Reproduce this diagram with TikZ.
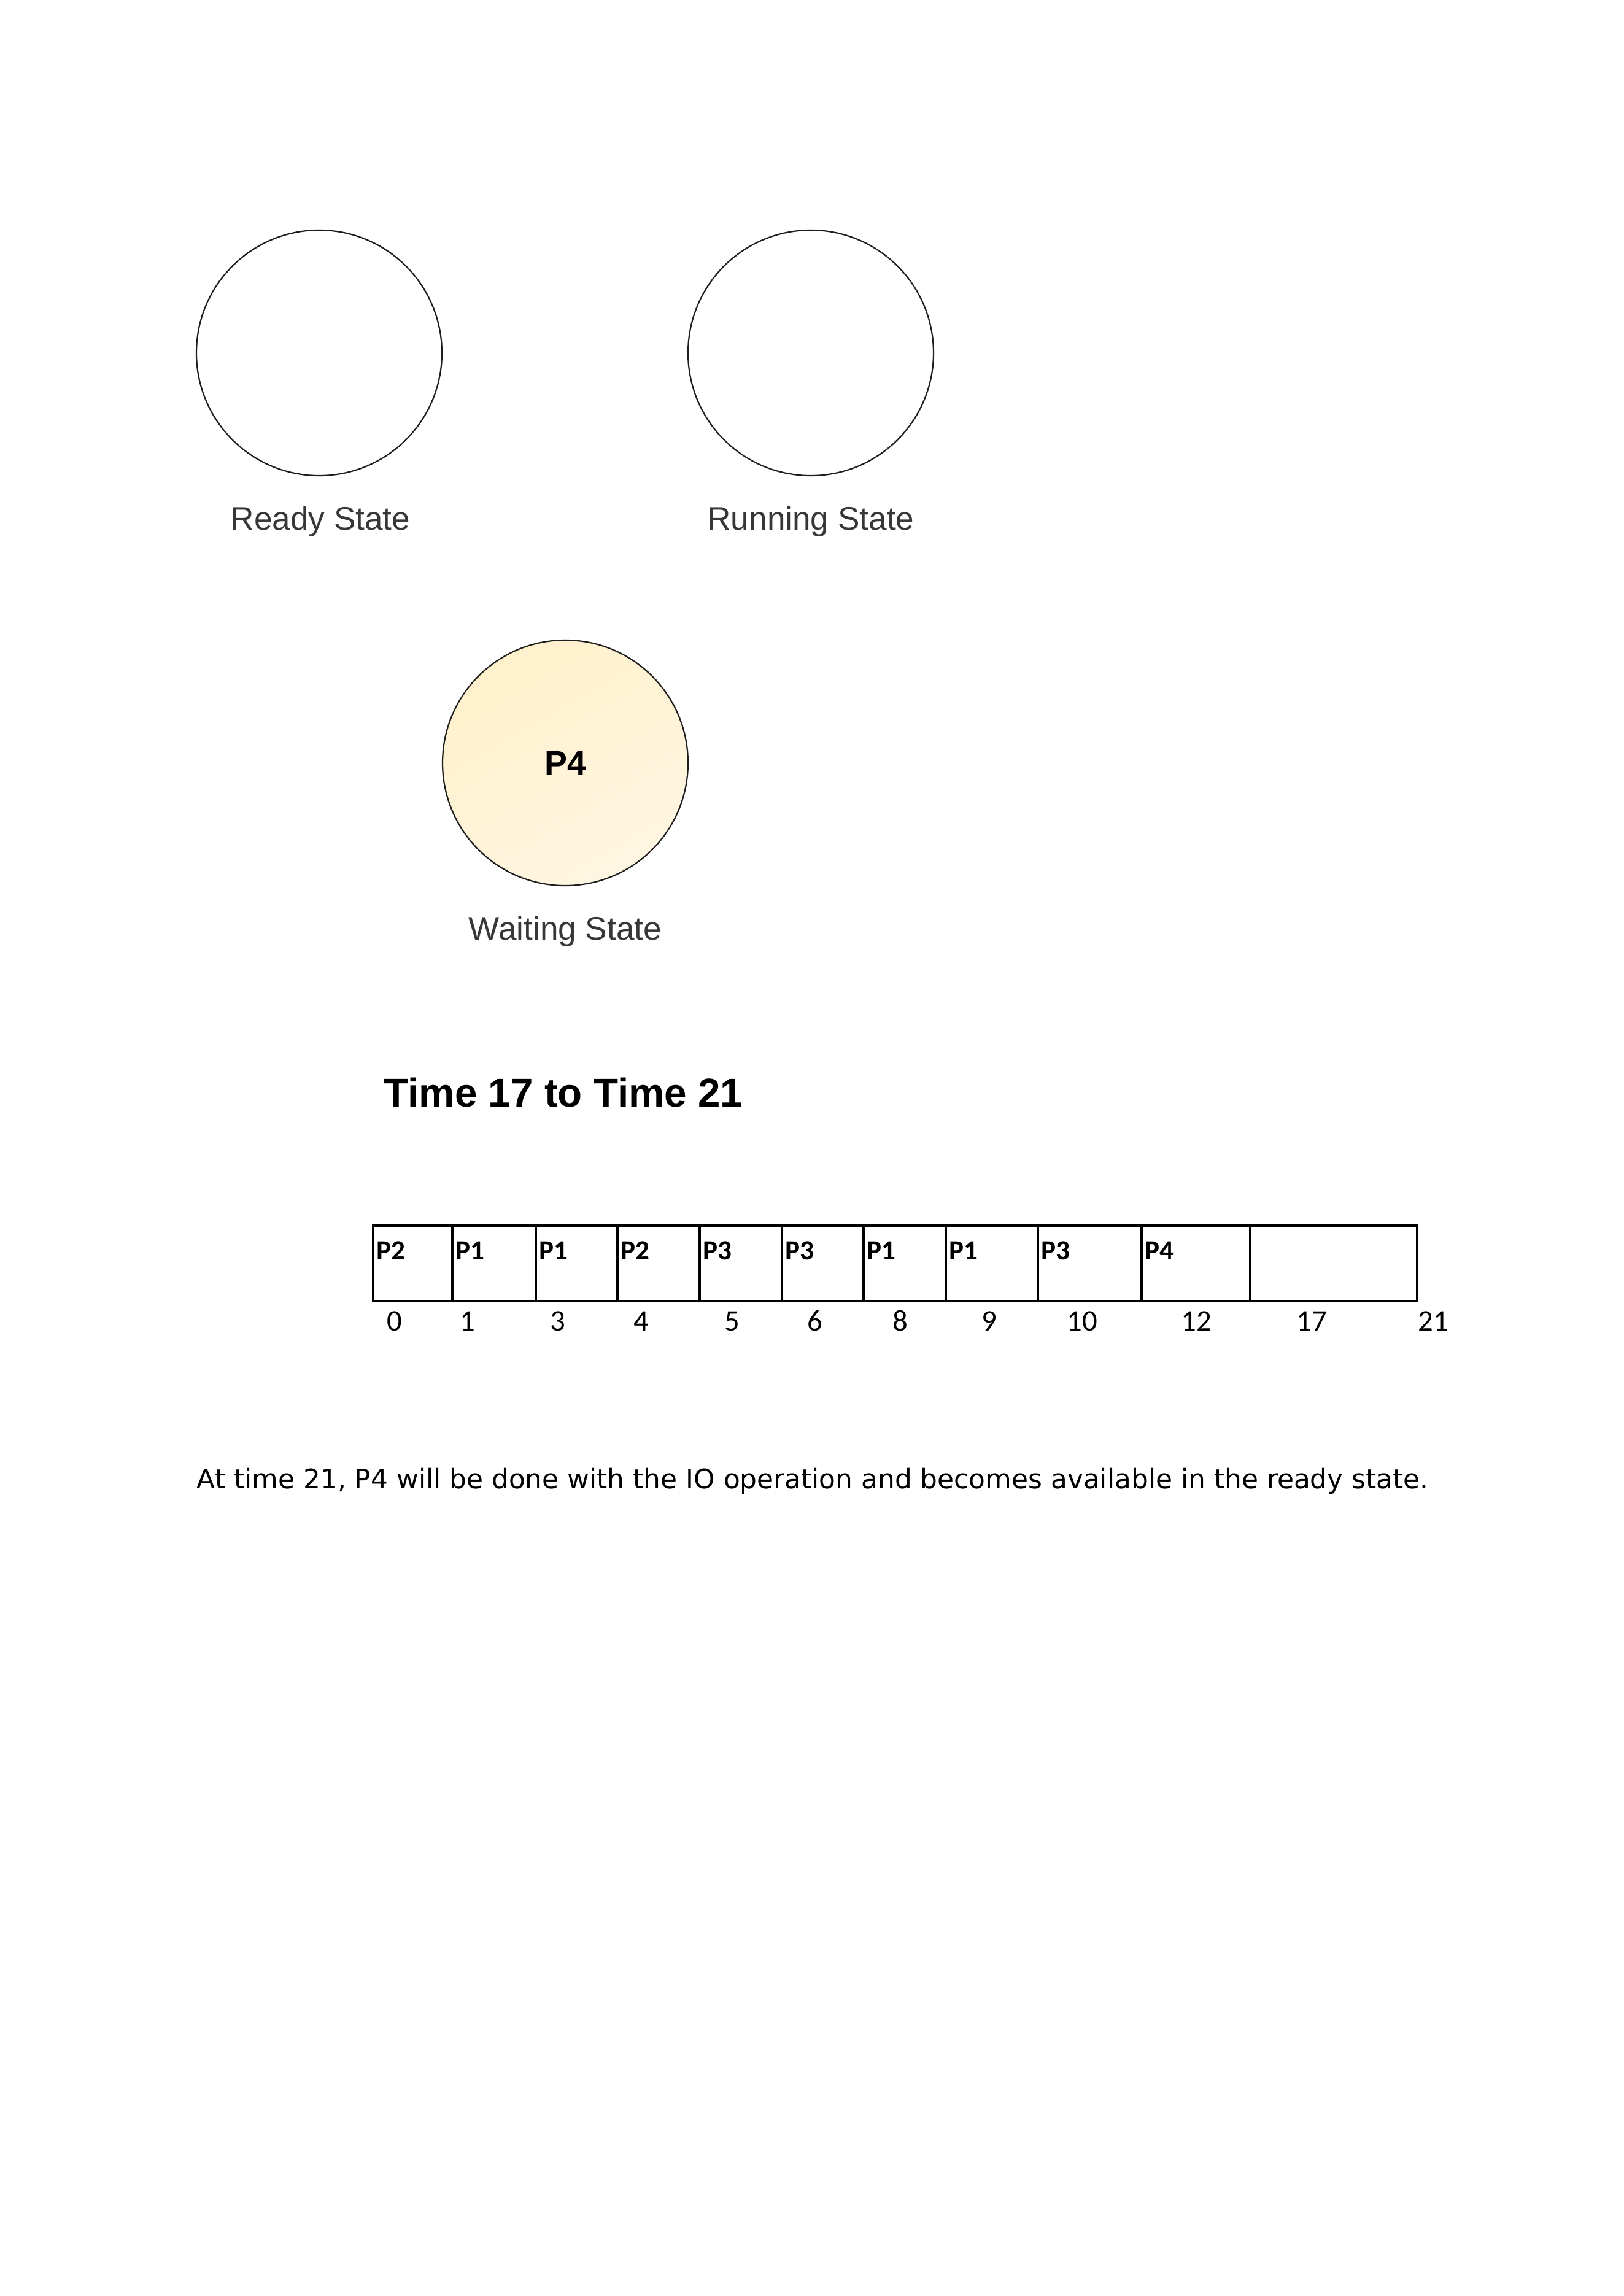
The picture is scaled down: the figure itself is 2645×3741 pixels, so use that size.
\documentclass[tikz,border=0pt]{standalone}
\usepackage{fontspec}
\usepackage{tikz}
\usetikzlibrary{positioning}
\setmainfont{DejaVu Sans}
\newfontfamily\arialf{Liberation Sans}
\newfontfamily\calf{Carlito}
\definecolor{rimgray}{RGB}{30,30,30}
\definecolor{lblgray}{RGB}{55,55,55}
\definecolor{waitfill}{RGB}{255,241,204}
\definecolor{waitlite}{RGB}{255,246,226}

\begin{document}
\begin{tikzpicture}[x=0.0079395cm,y=-0.0079395cm,
  state/.style={circle,draw=rimgray,line width=0.5pt,minimum size=400*0.0079395cm,inner sep=0pt},
  stlbl/.style={font=\arialf\fontsize{12pt}{14pt}\selectfont,text=lblgray,anchor=base},
  cell/.style={draw=black,line width=0.7pt},
  rim/.style={draw=black,line width=1.05pt},
  plbl/.style={font=\calf\bfseries\fontsize{10.2pt}{12pt}\selectfont,anchor=base west,inner sep=0pt},
  tick/.style={font=\calf\fontsize{11pt}{13pt}\selectfont,anchor=base,inner sep=0pt}]

\useasboundingbox[fill=white] (0,0) rectangle (2645,3741);

% --- 1. states
\node[state] (ready) at (520,575) {};
\node[state] (running) at (1321,575) {};
\node[state,top color=waitfill,bottom color=waitlite,shading angle=30,
      font=\arialf\bfseries\fontsize{12.5pt}{14pt}\selectfont] (waiting) at (921,1243) {P4};
\node[stlbl] (readylbl) at (522,863) {Ready State};
\node[stlbl] (runninglbl) at (1321,863) {Running State};
\node[stlbl] (waitinglbl) at (921,1531) {Waiting State};

% --- 2. title
\node[font=\arialf\bfseries\fontsize{14.8pt}{17pt}\selectfont,anchor=base west,inner sep=0pt]
  (title) at (625,1803) {Time 17 to Time 21};

% --- 3. gantt chart
\foreach \xa/\xb/\pname [count=\i] in {608/737/P2, 737/873/P1, 873/1006/P1, 1006/1140/P2,
    1140/1274/P3, 1274/1407/P3, 1407/1541/P1, 1541/1691/P1, 1691/1860/P3, 1860/2037/P4, 2037/2309/{}}{
  \draw[cell] (\xa,1997) rectangle (\xb,2120);
  \node[plbl] (p\i) at (\xa+5,2052) {\pname};
}
\draw[rim] (608,1997) rectangle (2309,2120);
\foreach \x/\t [count=\i] in {643/0, 762/1, 909/3, 1045/4, 1193/5, 1328/6, 1467/8,
    1612/9, 1763/10, 1949/12, 2137/17, 2335/21}
  \node[tick] (t\i) at (\x,2168) {\t};

% --- 4. note
\node[font=\fontsize{9.9pt}{12pt}\selectfont,anchor=base west,inner sep=0pt] (note) at (320,2425)
  {At time 21, P4 will be done with the IO operation and becomes available in the ready state.};
\end{tikzpicture}
\end{document}
